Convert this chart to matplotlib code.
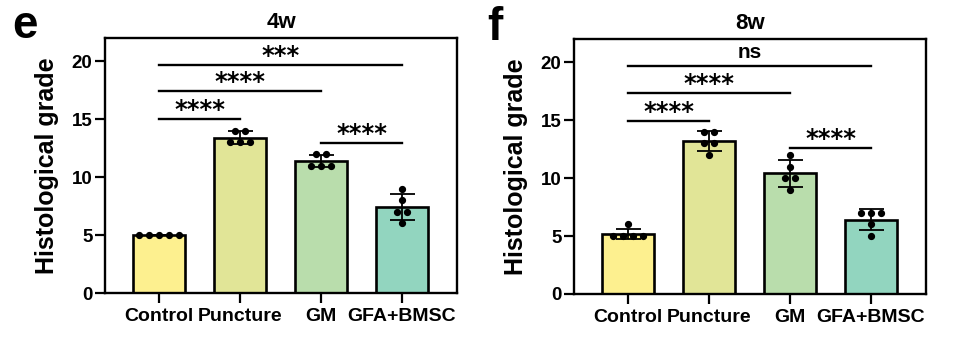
import numpy as np
import matplotlib.pyplot as plt

plt.rcParams['font.family'] = ['Liberation Sans', 'DejaVu Sans']
plt.rcParams['font.weight'] = 'bold'

groups     = ["Control", "Puncture", "GM", "GFA+BMSC"]
bar_colors = ["#FDF08F", "#E1E597", "#B9DDAC", "#92D5BF"]

# histological grade, 5 animals per group
scores_4w = [[5, 5, 5, 5, 5], [14, 14, 13, 13, 13], [12, 12, 11, 11, 11], [9, 8, 7, 7, 6]]
scores_8w = [[6, 5, 5, 5, 5], [14, 14, 13, 13, 12], [12, 11, 10, 10, 9], [7, 7, 7, 6, 5]]

# (group a, group b, line height, label)
sig_4w = [(0, 3, 19.7, "***"), (0, 2, 17.4, "****"), (0, 1, 15.0, "****"), (2, 3, 12.95, "****")]
sig_8w = [(0, 3, 19.7, "ns"), (0, 2, 17.35, "****"), (0, 1, 14.9, "****"), (2, 3, 12.6, "****")]


def spread(vals, step=0.123):
    # horizontal offsets for tied points, centred on the bar
    vals = np.asarray(vals)
    offs = np.zeros(len(vals))
    for v in np.unique(vals):
        idx = np.where(vals == v)[0]
        offs[idx] = (np.arange(len(idx)) - (len(idx) - 1) / 2) * step
    return offs


def panel(ax, scores, sigs, title):
    x = np.arange(len(groups))
    means = [np.mean(s) for s in scores]
    sds   = [np.std(s, ddof=1) for s in scores]
    ax.bar(x, means, width=0.64, color=bar_colors, edgecolor='black', linewidth=1.9, zorder=1)
    ax.errorbar(x, means, yerr=sds, fmt='none', ecolor='black', elinewidth=1.3,
                capsize=9, capthick=1.3, zorder=2)
    for i, s in enumerate(scores):
        ax.plot(x[i] + spread(s), s, 'o', color='black', ms=4.2, zorder=3)

    for a, b, y, lab in sigs:
        ax.plot([x[a], x[b]], [y, y], color='black', lw=1.7, clip_on=False)
        if lab == "ns":
            ax.text((x[a] + x[b]) / 2, y + 0.35, lab, ha='center', va='bottom', fontsize=15, fontweight='bold')
        else:
            ax.text((x[a] + x[b]) / 2, y - 0.25, lab, ha='center', va='bottom', fontsize=17.5,
                    fontweight='bold', family='DejaVu Sans')

    ax.set_xlim(-0.67, 3.68)
    ax.set_ylim(0, 22)
    ax.set_yticks([0, 5, 10, 15, 20])
    ax.set_xticks(x)
    ax.set_xticklabels(groups, fontsize=14, fontweight='bold')
    ax.tick_params(axis='y', labelsize=13.5, width=1.6, length=7, pad=2)
    ax.tick_params(axis='x', width=1.6, length=7, pad=4)
    for sp in ax.spines.values():
        sp.set_linewidth(1.7)
    ax.set_ylabel("Histological grade", fontsize=18, fontweight='bold')
    ax.yaxis.set_label_coords(-0.13, 0.5)
    ax.set_title(title, fontsize=16, fontweight='bold', pad=7)


fig = plt.figure(figsize=(9.55, 3.4), dpi=100)
ax1 = fig.add_axes([105 / 955, 47 / 340, 352 / 955, 255 / 340])
ax2 = fig.add_axes([574 / 955, 46 / 340, 352 / 955, 255 / 340])

panel(ax1, scores_4w, sig_4w, "4w")
panel(ax2, scores_8w, sig_8w, "8w")

fig.text(12 / 955, 1 - 38 / 340, "e", fontsize=33, fontweight='bold', va='baseline')
fig.text(487 / 955, 1 - 40 / 340, "f", fontsize=33, fontweight='bold', va='baseline')

fig.savefig("out.png", dpi=100)
